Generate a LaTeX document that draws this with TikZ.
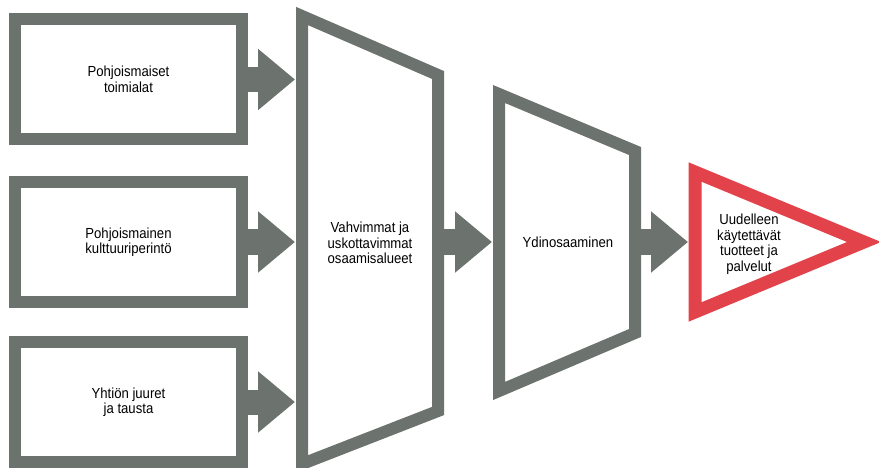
\documentclass[tikz,border=0pt]{standalone}
\usepackage{fontspec}
\setmainfont[FakeStretch=0.9]{Liberation Sans}
\usetikzlibrary{arrows.meta}
\definecolor{frameGray}{RGB}{108,114,109}
\definecolor{outRed}{RGB}{226,67,74}
\begin{document}
\begin{tikzpicture}[x=1pt, y=-1pt,
	every node/.style={ align=center, text=black, font=\fontsize{14.6}{15.5}\selectfont },
	box/.style={ draw=frameGray, line width=12pt, outer sep=6pt, minimum width=227pt, minimum height=120pt },
	funnel/.style={ draw=frameGray, line width=12pt, line join=miter },
	flow/.style={ draw=frameGray, line width=25pt, -{Triangle[length=37pt, width=59pt]} }]
		\useasboundingbox (0,0) rectangle (879,468);

		\node[box] (b1) at (128.5,79.5) {Pohjoismaiset\\toimialat};
		\node[box] (b2) at (128.5,242) {Pohjoismainen\\kulttuuriperintö};
		\node[box] (b3) at (128.5,402) {Yhtiön juuret\\ja tausta};

		\draw[funnel] (302,16) -- (438,75) -- (438,411) -- (302,464) -- cycle;
		\node (big) at (370,243) {Vahvimmat ja\\uskottavimmat\\osaamisalueet};
		\coordinate (bigL) at (295,243);
		\coordinate (bigR) at (444,242);

		\draw[funnel] (499,94) -- (635,151) -- (635,333) -- (499,391) -- cycle;
		\node (core) at (568,242) {Ydinosaaminen};
		\coordinate (coreL) at (492,242);
		\coordinate (coreR) at (641,242);

		\draw[outRed, line width=13pt, line join=miter] (695,172) -- (864,242) -- (695,312) -- cycle;
		\node (out) at (749,244) {Uudelleen\\käytettävät\\tuotteet ja\\palvelut};
		\coordinate (outL) at (688,242);

		\draw[flow] (b1.east) -- (b1.east -| bigL);
		\draw[flow] (b2.east) -- (b2.east -| bigL);
		\draw[flow] (b3.east) -- (b3.east -| bigL);
		\draw[flow] (bigR) -- (coreL);
		\draw[flow] (coreR) -- (outL);
	\end{tikzpicture}
\end{document}
